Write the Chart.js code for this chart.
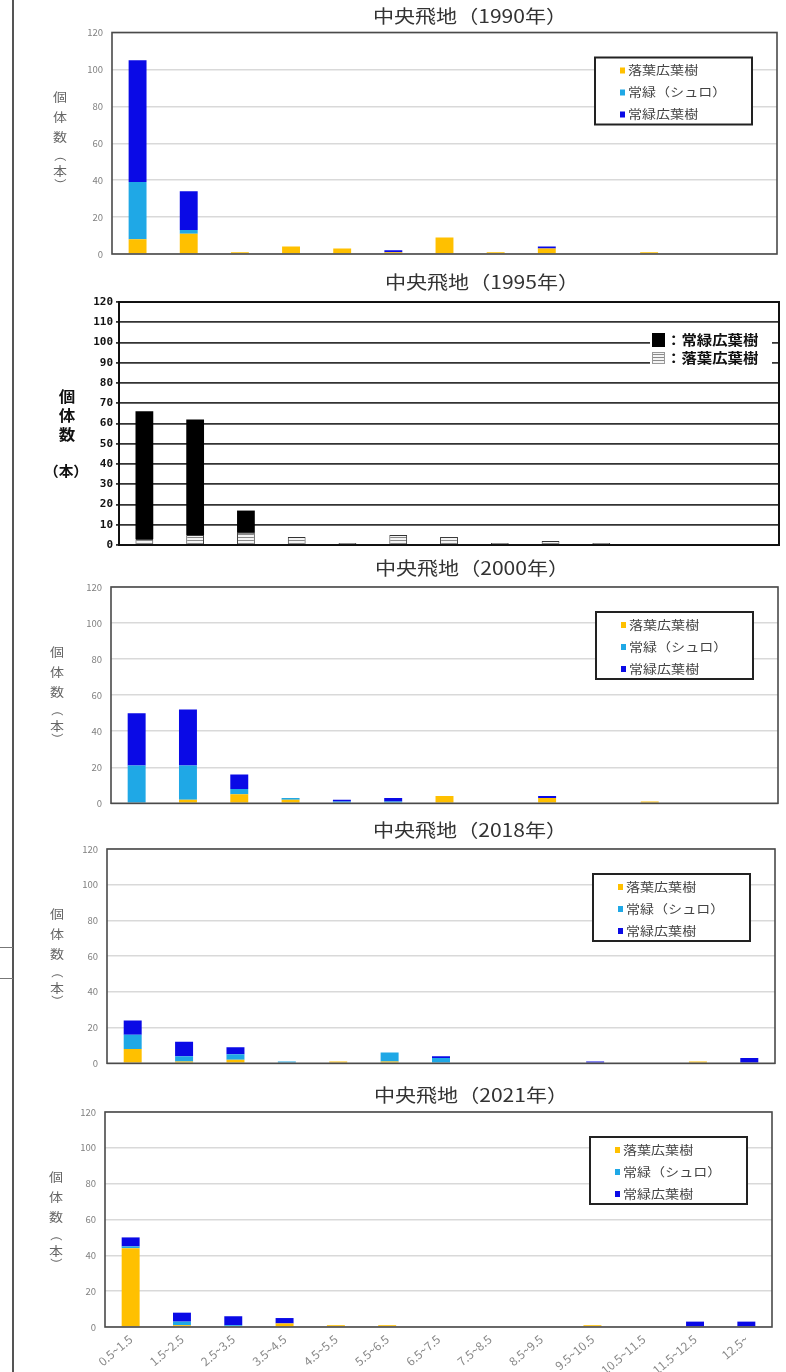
<!DOCTYPE html>
<html><head><meta charset="utf-8">
<script src="https://cdn.jsdelivr.net/npm/chart.js@4.4.1/dist/chart.umd.min.js"></script>
<style>
html,body{margin:0;padding:0;background:#fff;overflow:hidden;width:786px;height:1372px;position:relative}
canvas{position:absolute;left:0}
.frame{position:absolute;left:12px;top:0;width:2px;height:1372px;background:#555}
.hl{position:absolute;left:0;width:13px;height:1px;background:#777}
</style></head><body>
<div class="frame"></div><div class="hl" style="top:947px"></div><div class="hl" style="top:978px"></div>
<canvas id="c1" width="786" height="270" style="top:0px"></canvas>
<canvas id="c2" width="786" height="285" style="top:270px"></canvas>
<canvas id="c3" width="786" height="263" style="top:555px"></canvas>
<canvas id="c4" width="786" height="260" style="top:818px"></canvas>
<canvas id="c5" width="786" height="320" style="top:1078px"></canvas>
<script>
// ---------- data ----------
const categories = ["0.5~1.5","1.5~2.5","2.5~3.5","3.5~4.5","4.5~5.5","5.5~6.5","6.5~7.5","7.5~8.5","8.5~9.5","9.5~10.5","10.5~11.5","11.5~12.5","12.5~"];
const seriesNames = ["落葉広葉樹","常緑（シュロ）","常緑広葉樹"];
const seriesNames1995 = ["落葉広葉樹","常緑広葉樹"];
const chartTitles = ["中央飛地（1990年）","中央飛地（1995年）","中央飛地（2000年）","中央飛地（2018年）","中央飛地（2021年）"];
const yAxisTitle = "個体数（本）";
const yTicksMax = 120;

const deciduous1990 = [8, 11, 1, 4, 3, 1, 9, 1, 3, 0, 1, 0, 0];
const shuro1990     = [31, 2, 0, 0, 0, 0, 0, 0, 0, 0, 0, 0, 0];
const evergreen1990 = [66, 21, 0, 0, 0, 1, 0, 0, 1, 0, 0, 0, 0];

const deciduous1995 = [3, 5, 6, 4, 1, 5, 4, 1, 2, 1, 0, 0, 0];
const evergreen1995 = [63, 57, 11, 0, 0, 0, 0, 0, 0, 0, 0, 0, 0];

const deciduous2000 = [0, 2, 5, 2, 0, 0, 4, 0, 3, 0, 1, 0, 0];
const shuro2000     = [21, 19, 3, 1, 1, 1, 0, 0, 0, 0, 0, 0, 0];
const evergreen2000 = [29, 31, 8, 0, 1, 2, 0, 0, 1, 0, 0, 0, 0];

const deciduous2018 = [8, 1, 2, 0, 1, 1, 0, 0, 0, 0, 0, 1, 0];
const shuro2018     = [8, 3, 3, 1, 0, 5, 3, 0, 0, 0, 0, 0, 0];
const evergreen2018 = [8, 8, 4, 0, 0, 0, 1, 0, 0, 1, 0, 0, 3];

const deciduous2021 = [44, 1, 0, 2, 1, 1, 0, 0, 0, 1, 0, 0, 0];
const shuro2021     = [1, 2, 1, 0, 0, 0, 0, 0, 0, 0, 0, 0, 0];
const evergreen2021 = [5, 5, 5, 3, 0, 0, 0, 0, 0, 0, 0, 3, 3];

// ---------- styling ----------
const YELLOW = '#FFC000', LBLUE = '#1FA8E6', BLUE = '#0A0AE6';
const FONT = "'Noto Sans CJK JP','Noto Sans',sans-serif";
const SX = 1.17;
Chart.defaults.font.family = FONT;
Chart.defaults.animation = false;

function hatchPattern(){
  const c = document.createElement('canvas'); c.width = 4; c.height = 3;
  const g = c.getContext('2d');
  g.fillStyle = '#f4f4f4'; g.fillRect(0,0,4,3);
  g.fillStyle = '#8a8a8a'; g.fillRect(0,0,4,1);
  return g.createPattern(c,'repeat');
}

function sText(ctx, text, x, y, font, color, align, sx){
  ctx.save(); ctx.font = font; ctx.fillStyle = color;
  ctx.textBaseline = 'middle'; ctx.textAlign = align || 'center';
  ctx.translate(x, y); ctx.scale(sx || SX, 1); ctx.fillText(text, 0, 0); ctx.restore();
}

const deco = {
  id: 'deco',
  afterDraw(chart, args, o){
    const ctx = chart.ctx, a = chart.chartArea, T = o.pageTop;
    // plot border
    ctx.save(); ctx.strokeStyle = o.borderColor; ctx.lineWidth = o.borderWidth;
    ctx.strokeRect(a.left, a.top, a.right - a.left, a.bottom - a.top); ctx.restore();
    // title
    sText(ctx, o.title, o.titleX, o.titleY - T, "18px " + FONT, '#333');
    // y axis title
    const chars = Array.from(yAxisTitle);
    if (o.style === 'excel') {
      const offs = [65, 85, 105, 123, 139, 152];
      chars.forEach((ch, i) => {
        ctx.save(); ctx.font = "12px " + FONT; ctx.fillStyle = '#666';
        ctx.textAlign = 'center'; ctx.textBaseline = 'middle';
        ctx.translate(o.yTitleX, a.top + offs[i]);
        if (ch === '（' || ch === '）') ctx.rotate(Math.PI / 2); else ctx.scale(SX, 1);
        ctx.fillText(ch, 0, 0); ctx.restore();
      });
      // legend box
      const w = 157, h = 67, L = a.right - 25 - w, TT = a.top + 25;
      ctx.save(); ctx.fillStyle = '#fff'; ctx.fillRect(L, TT, w, h);
      ctx.strokeStyle = '#222'; ctx.lineWidth = 2; ctx.strokeRect(L, TT, w, h); ctx.restore();
      chart.data.datasets.forEach((ds, i) => {
        const y = TT + 13 + 22 * i;
        ctx.fillStyle = ds.backgroundColor; ctx.fillRect(L + 25, y - 3, 5, 6);
        sText(ctx, ds.label, L + 33, y, "12px " + FONT, '#444', 'left');
      });
    } else {
      const vy = [396, 415, 434];
      for (let i = 0; i < 3; i++) sText(ctx, chars[i], 67, vy[i] - T, "bold 15px " + FONT, '#111', 'center', 1.1);
      sText(ctx, chars.slice(3).join(''), 66, 471 - T, "bold 14px " + FONT, '#111', 'center', 1.05);
      // legend
      ctx.save(); ctx.fillStyle = '#fff'; ctx.fillRect(650, 331 - T, 122, 35); ctx.restore();
      const order = [1, 0];
      order.forEach((di, r) => {
        const ds = chart.data.datasets[di];
        const y = (r === 0 ? 340 : 358) - T;
        ctx.save();
        ctx.fillStyle = ds.backgroundColor;
        if (r === 0) ctx.fillRect(652, y - 7, 13, 14);
        else { ctx.fillRect(652, y - 6, 13, 12); ctx.strokeStyle = '#999'; ctx.lineWidth = 1; ctx.strokeRect(652.5, y - 5.5, 12, 11); }
        ctx.restore();
        sText(ctx, '：' + ds.label, 666, y, "bold 14px " + FONT, '#111', 'left', 1.1);
      });
    }
  }
};

function makeChart(id, cfg){
  const el = document.getElementById(id);
  const W = el.width, H = el.height, T = cfg.pageTop;
  const plotTop = cfg.plot[1] - T, plotBottom = cfg.plot[3] - T;
  const xh = cfg.xLabels ? 60 : 0;
  const excel = cfg.style === 'excel';
  new Chart(el, {
    type: 'bar',
    data: { labels: categories, datasets: cfg.datasets },
    options: {
      responsive: false, devicePixelRatio: 1, animation: false,
      layout: { padding: { left: 0, right: W - cfg.plot[2], top: plotTop, bottom: H - plotBottom - xh } },
      datasets: { bar: { barPercentage: 0.35, categoryPercentage: 1 } },
      scales: {
        x: {
          stacked: true,
          grid: { display: false, drawTicks: false },
          border: { display: false },
          ticks: cfg.xLabels ? { display: true, autoSkip: false, maxRotation: 40, minRotation: 40, padding: 5, color: '#888', font: { size: 12 } } : { display: false },
          afterFit(s){ s.height = xh; }
        },
        y: {
          stacked: true, min: 0, max: yTicksMax,
          ticks: excel ? { stepSize: 20, padding: 9, color: '#808080', font: { size: 9.5 } }
                       : { stepSize: 10, padding: 3, color: '#111', font: { size: 11, weight: 'bold', family: "'DejaVu Sans Mono',monospace" } },
          grid: excel ? { color: '#d9d9d9', lineWidth: 1.5, drawTicks: false }
                      : { color: '#333', lineWidth: 1.8, drawTicks: true, tickLength: 3 },
          border: { display: false },
          afterFit(s){ s.width = cfg.plot[0]; }
        }
      },
      plugins: {
        legend: { display: false }, tooltip: { enabled: false },
        deco: { pageTop: T, title: cfg.title, titleX: cfg.titleXY[0], titleY: cfg.titleXY[1],
                style: cfg.style, yTitleX: cfg.yTitleX,
                borderColor: excel ? '#4a4a4a' : '#111', borderWidth: excel ? 1.6 : 2 }
      }
    },
    plugins: [deco]
  });
}

function excelSets(dec, shu, eve){
  return [
    { label: seriesNames[0], data: dec, backgroundColor: YELLOW, borderWidth: 0 },
    { label: seriesNames[1], data: shu, backgroundColor: LBLUE, borderWidth: 0 },
    { label: seriesNames[2], data: eve, backgroundColor: BLUE, borderWidth: 0 }
  ];
}

makeChart('c1', { pageTop: 0, plot: [112, 32.5, 777, 254], title: chartTitles[0], titleXY: [470, 16], style: 'excel', yTitleX: 60,
  datasets: excelSets(deciduous1990, shuro1990, evergreen1990) });

makeChart('c2', { pageTop: 270, plot: [119, 302, 779, 545], title: chartTitles[1], titleXY: [482, 282], style: 'scan',
  datasets: [
    { label: seriesNames1995[0], data: deciduous1995, backgroundColor: hatchPattern(), borderColor: '#333', borderWidth: 1 },
    { label: seriesNames1995[1], data: evergreen1995, backgroundColor: '#000', borderWidth: 0 }
  ] });

makeChart('c3', { pageTop: 555, plot: [111, 587, 778, 810], title: chartTitles[2], titleXY: [472, 568], style: 'excel', yTitleX: 57,
  datasets: excelSets(deciduous2000, shuro2000, evergreen2000) });

makeChart('c4', { pageTop: 818, plot: [107, 849, 775, 1071], title: chartTitles[3], titleXY: [470, 830], style: 'excel', yTitleX: 57,
  datasets: excelSets(deciduous2018, shuro2018, evergreen2018) });

makeChart('c5', { pageTop: 1078, plot: [105, 1112, 772, 1327], title: chartTitles[4], titleXY: [471, 1095], style: 'excel', yTitleX: 56, xLabels: true,
  datasets: excelSets(deciduous2021, shuro2021, evergreen2021) });
</script>
</body></html>
